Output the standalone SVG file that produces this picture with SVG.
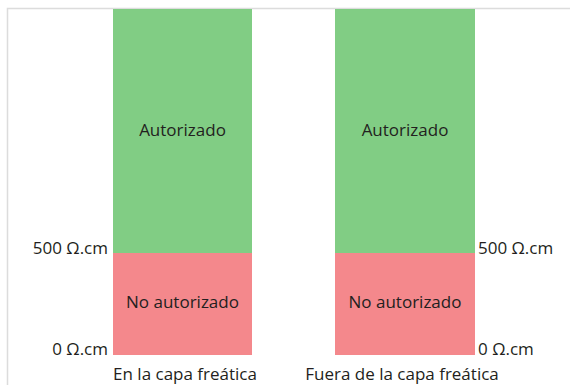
<svg xmlns="http://www.w3.org/2000/svg" width="570" height="385" viewBox="0 0 570 385">
<style>
.g{fill:#81cd84}
.r{fill:#f4888c}
text{font-family:"Open Sans","Liberation Sans",sans-serif;font-size:17px;fill:#231f20}
.c{text-anchor:middle}
.e{text-anchor:end}
</style>
<rect width="570" height="385" fill="#ffffff"/>
<path d="M7.5,385 V8.5 H570" fill="none" stroke="#dcdcdc" stroke-width="1.5"/>
<g id="col1">
<rect class="g" x="113" y="9" width="139" height="244"/>
<rect class="r" x="113" y="253" width="139" height="102"/>
<text class="c" x="182.5" y="136">Autorizado</text>
<text class="c" x="182.5" y="308">No autorizado</text>
<text class="e" x="108" y="254">500 Ω.cm</text>
<text class="e" x="108" y="355">0 Ω.cm</text>
<text class="c" x="185" y="380">En la capa freática</text>
</g>
<g id="col2">
<rect class="g" x="335" y="9" width="140" height="244"/>
<rect class="r" x="335" y="253" width="140" height="102"/>
<text class="c" x="405" y="136">Autorizado</text>
<text class="c" x="405" y="308">No autorizado</text>
<text x="478" y="254">500 Ω.cm</text>
<text x="478" y="355">0 Ω.cm</text>
<text class="c" x="402" y="380">Fuera de la capa freática</text>
</g>
<g id="connectors"/>
</svg>
